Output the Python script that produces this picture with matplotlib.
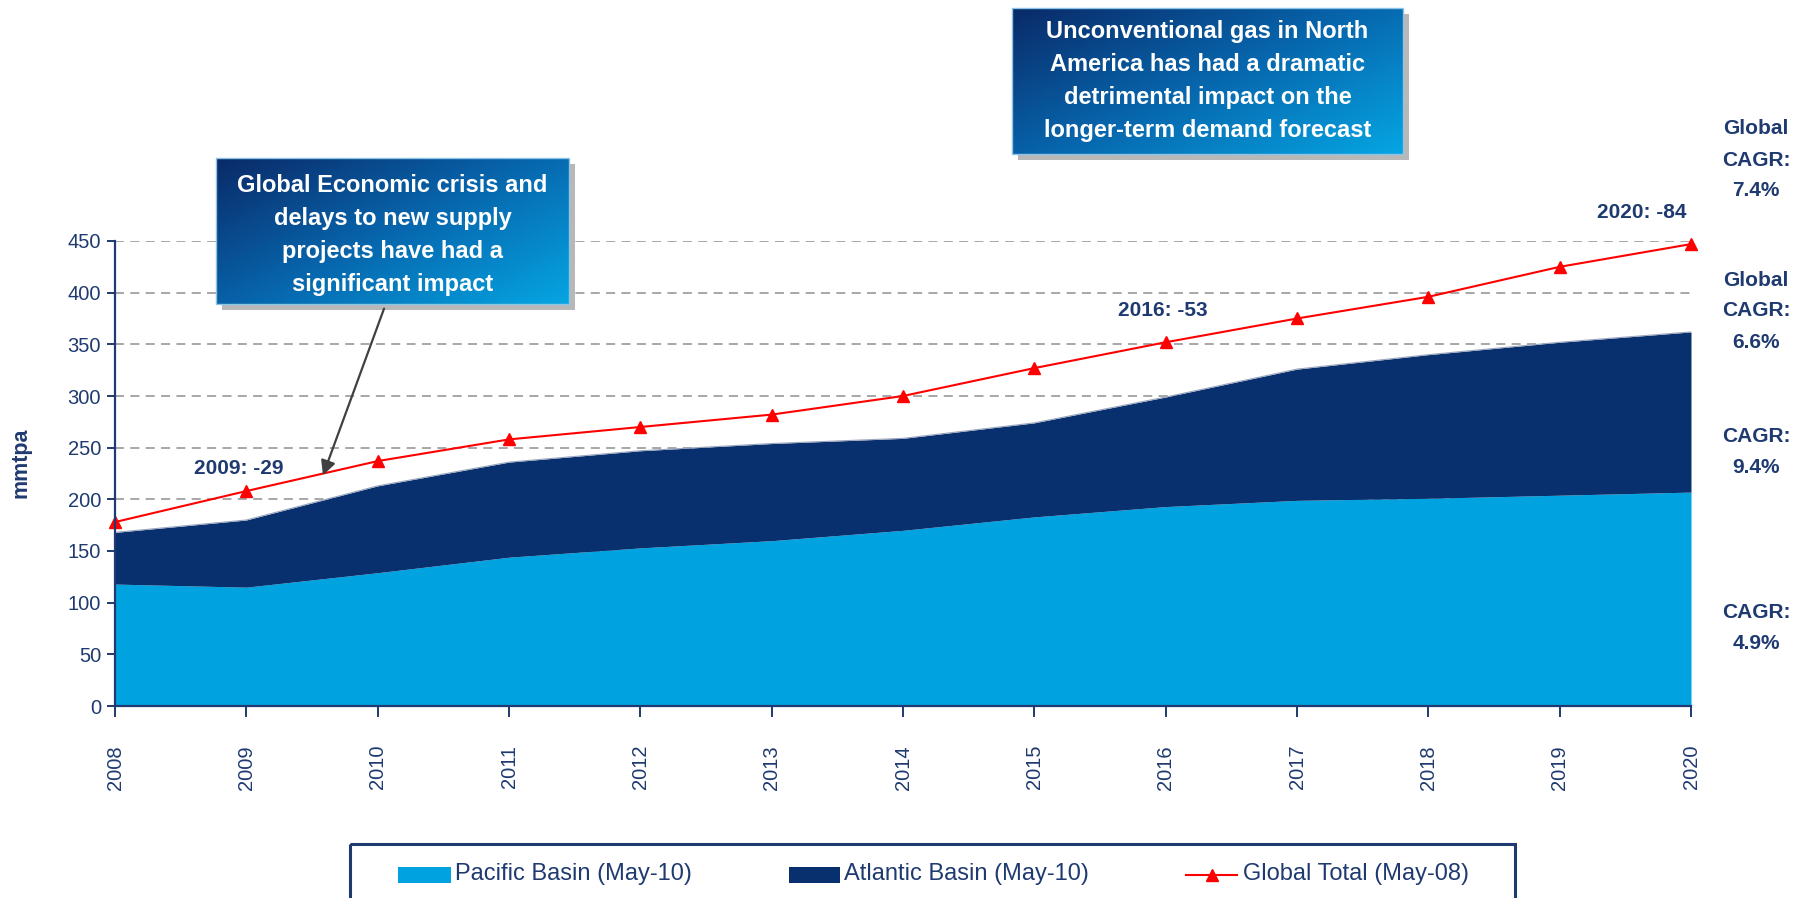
import numpy as np
import matplotlib
matplotlib.use("Agg")
import matplotlib.pyplot as plt
from matplotlib.colors import LinearSegmentedColormap
from matplotlib.patches import Rectangle
from matplotlib.lines import Line2D

plt.rcParams['font.family'] = ['Liberation Sans', 'DejaVu Sans']

# data (mmtpa)
years = [2008, 2009, 2010, 2011, 2012, 2013, 2014, 2015, 2016, 2017, 2018, 2019, 2020]
pacific = [118, 115, 129, 144, 153, 160, 170, 183, 193, 199, 201, 204, 207]
atlantic = [50, 65, 84, 92, 94, 94, 89, 91, 106, 127, 139, 148, 155]
global_total = [178, 208, 237, 258, 270, 282, 300, 327, 352, 375, 396, 425, 447]

y_ticks = [0, 50, 100, 150, 200, 250, 300, 350, 400, 450]
series_names = ["Pacific Basin (May-10)", "Atlantic Basin (May-10)", "Global Total (May-08)"]

gap_labels = ["2009: -29", "2016: -53", "2020: -84"]
cagr_labels = ["Global\nCAGR:\n7.4%", "Global\nCAGR:\n6.6%", "CAGR:\n9.4%", "CAGR:\n4.9%"]
box_texts = ["Global Economic crisis and\ndelays to new supply\nprojects have had a\nsignificant impact",
             "Unconventional gas in North\nAmerica has had a dramatic\ndetrimental impact on the\nlonger-term demand forecast"]

NAVY = "#1F3A70"
LIGHT = "#00A3E0"
DARK = "#08306F"
RED = "#FF0000"

W, H = 1814, 898
fig = plt.figure(figsize=(W / 100, H / 100), dpi=100)
fig.patch.set_facecolor("white")

ax = fig.add_axes([115 / W, 1 - 706 / H, (1691 - 115) / W, (706 - 241) / H])

# gridlines first so areas hide them
for v in y_ticks[1:]:
    ax.axhline(v, color="#A0A0A0", lw=1.3, ls=(0, (5, 3.5)), zorder=0)

top = np.array(pacific) + np.array(atlantic)
ax.fill_between(years, 0, pacific, color=LIGHT, lw=0, zorder=2)
ax.fill_between(years, pacific, top, color=DARK, lw=0, zorder=2)
ax.plot(years, top, color="#9AA6BC", lw=0.8, zorder=3)
ax.plot(years, global_total, color=RED, lw=1.5, marker="^", ms=9, zorder=4, clip_on=False)

ax.set_xlim(2008, 2020)
ax.set_ylim(0, 450)
ax.set_yticks(y_ticks)
ax.set_xticks(years)
ax.set_xticklabels([str(y) for y in years], rotation=90)
for s in ["top", "right"]:
    ax.spines[s].set_visible(False)
for s in ["left", "bottom"]:
    ax.spines[s].set_color(NAVY)
    ax.spines[s].set_linewidth(1.6)
    ax.spines[s].set_zorder(5)
ax.tick_params(axis="y", colors=NAVY, labelsize=14.5, length=6, width=1.4, pad=4)
ax.tick_params(axis="x", colors=NAVY, labelsize=14.5, length=8, width=1.4, pad=20)
for lab in ax.get_xticklabels() + ax.get_yticklabels():
    lab.set_color(NAVY)

# overlay in pixel coordinates for notes, callouts and legend
ov = fig.add_axes([0, 0, 1, 1])
ov.set_xlim(0, W)
ov.set_ylim(H, 0)
ov.axis("off")

ov.text(21, 463, "mmtpa", rotation=90, ha="center", va="center",
        color=NAVY, fontsize=15.5, fontweight="bold")

for txt, (x, y) in zip(gap_labels, [(239, 469), (1163, 310), (1642, 212)]):
    ov.text(x, y, txt, ha="center", va="center", color=NAVY, fontsize=15, fontweight="bold")

for txt, y in zip(cagr_labels, [160, 311, 452, 628]):
    ov.text(1756, y, txt, ha="center", va="center", color=NAVY, fontsize=15,
            fontweight="bold", linespacing=1.8)

# gradient callout boxes
cmap = LinearSegmentedColormap.from_list("callout", ["#0A2A68", "#0766AD", "#05A5E2"])
gx, gy = np.meshgrid(np.linspace(0, 1, 200), np.linspace(0, 1, 80))
grad = 0.55 * gx + 0.45 * gy
for txt, (x0, y0, x1, y1), dy in zip(box_texts, [(216, 158, 569, 304), (1012, 8, 1403, 154)], [4, 0]):
    ov.add_patch(Rectangle((x0 + 6, y0 + 6), x1 - x0, y1 - y0, color="#B8B8B8", lw=0, zorder=1))
    ov.imshow(grad, cmap=cmap, extent=(x0, x1, y1, y0), origin="upper", aspect="auto", zorder=2)
    ov.add_patch(Rectangle((x0, y0), x1 - x0, y1 - y0, fill=False, ec="#8CC4E8", lw=1, zorder=3))
    ov.text((x0 + x1) / 2, (y0 + y1) / 2 + dy, txt, ha="center", va="center", color="white",
            fontsize=17, fontweight="bold", linespacing=1.55, zorder=4)
ov.set_xlim(0, W)
ov.set_ylim(H, 0)

ov.annotate("", xy=(322, 478), xytext=(385, 306),
            arrowprops=dict(arrowstyle="-|>", color="#404040", lw=1.6, mutation_scale=22))

# legend box
ov.add_patch(Rectangle((350, 844), 1515 - 350, 80, fill=False, ec=NAVY, lw=2.2, clip_on=False))
ov.add_patch(Rectangle((398, 867), 53, 16, color=LIGHT, lw=0))
ov.add_patch(Rectangle((789, 867), 51, 16, color=DARK, lw=0))
ov.add_line(Line2D([1186, 1237], [875, 875], color=RED, lw=1.5))
ov.add_line(Line2D([1211.5], [875], color=RED, marker="^", ms=9, lw=0))
for txt, x in zip(series_names, [455, 844, 1243]):
    ov.text(x, 874, txt, ha="left", va="center", color=NAVY, fontsize=17)

fig.savefig("out.png", dpi=100)
